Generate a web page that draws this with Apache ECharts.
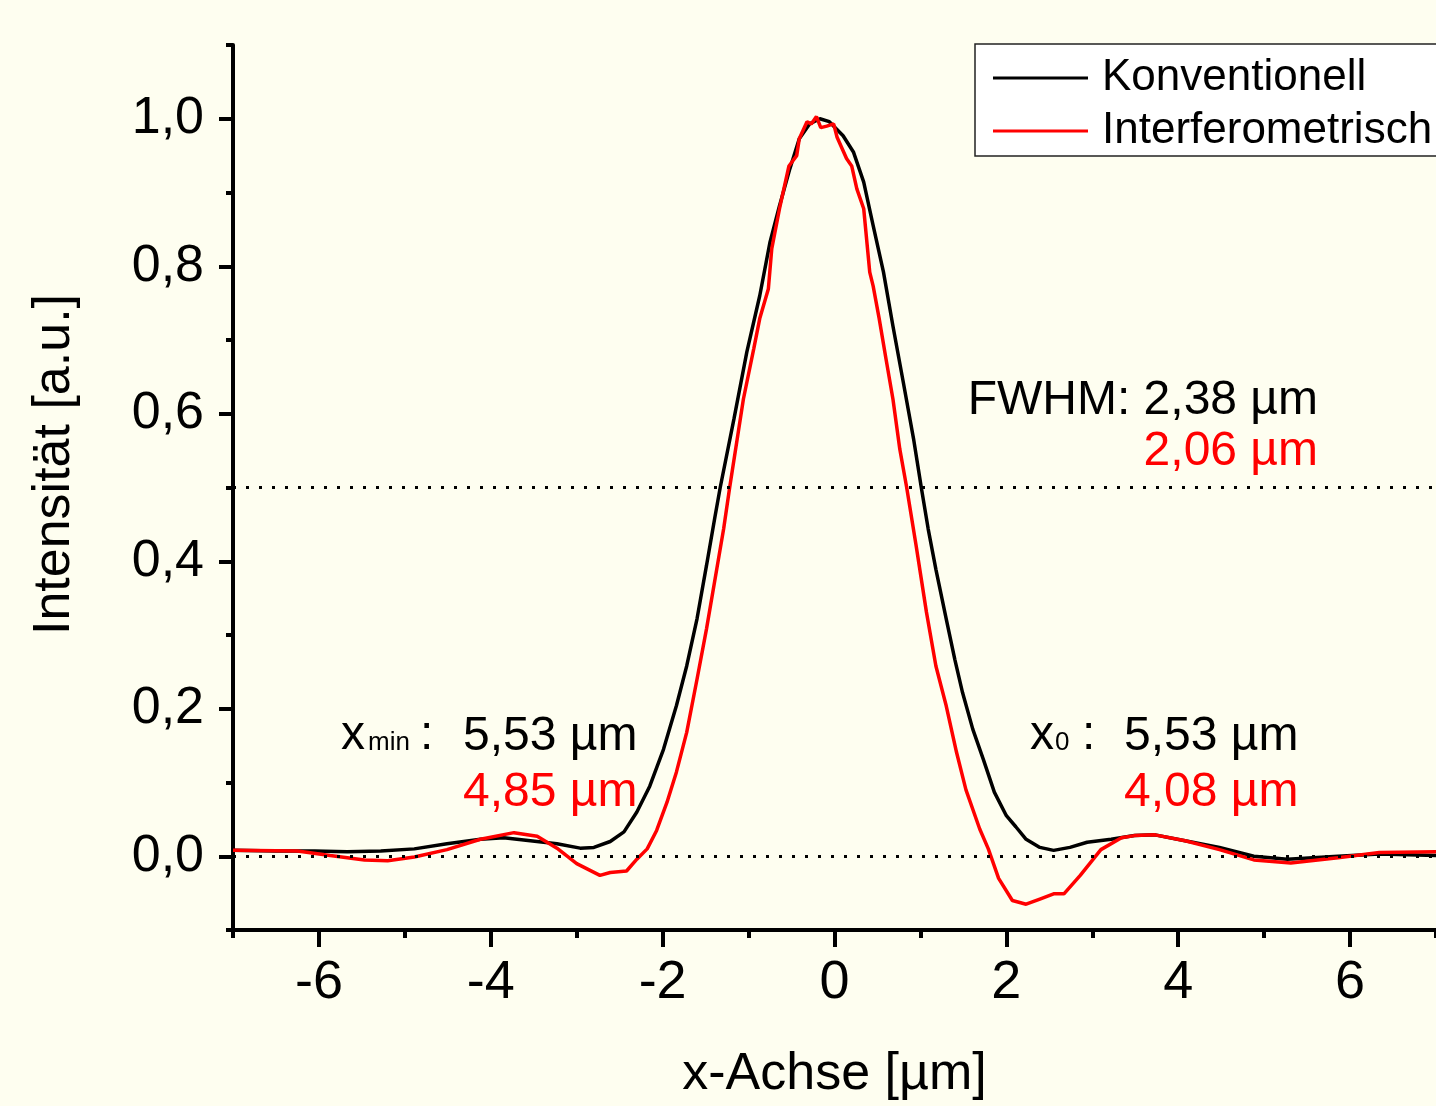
<!DOCTYPE html>
<html>
<head>
<meta charset="utf-8">
<script src="https://cdn.jsdelivr.net/npm/echarts@6/dist/echarts.min.js"></script>
<style>
html,body{margin:0;padding:0;background:#FEFEF0;}
#chart{width:1436px;height:1106px;}
</style>
</head>
<body>
<div id="chart"></div>
<script>
// ---- data ----
const seriesNames = ['Konventionell', 'Interferometrisch'];
const konvX = [-7.0,-6.5,-6.05,-5.67,-5.28,-4.89,-4.51,-4.12,-3.85,-3.54,-3.23,-2.96,-2.80,-2.61,-2.45,-2.30,-2.15,-1.99,-1.84,-1.72,-1.60,-1.49,-1.39,-1.33,-1.17,-1.02,-0.87,-0.75,-0.64,-0.52,-0.41,-0.29,-0.17,-0.06,0.10,0.22,0.34,0.45,0.57,0.68,0.80,0.92,1.01,1.09,1.18,1.30,1.40,1.49,1.61,1.73,1.86,2.00,2.11,2.23,2.39,2.55,2.74,2.94,3.22,3.49,3.73,4.08,4.48,4.88,5.27,5.86,6.34,7.0];
const konvY = [0.008,0.007,0.007,0.006,0.007,0.010,0.017,0.023,0.025,0.021,0.017,0.011,0.012,0.020,0.033,0.060,0.095,0.145,0.204,0.258,0.322,0.394,0.461,0.500,0.593,0.684,0.760,0.833,0.882,0.932,0.973,0.993,1.000,0.996,0.977,0.955,0.914,0.855,0.792,0.719,0.643,0.566,0.500,0.444,0.389,0.322,0.267,0.222,0.172,0.132,0.087,0.055,0.040,0.023,0.012,0.008,0.012,0.019,0.023,0.028,0.029,0.021,0.012,0.000,-0.004,0.000,0.003,0.001];
const interfX = [-7.0,-6.25,-5.87,-5.47,-5.20,-4.89,-4.51,-4.12,-3.73,-3.46,-3.23,-3.00,-2.73,-2.61,-2.42,-2.30,-2.18,-2.07,-1.95,-1.84,-1.72,-1.60,-1.49,-1.39,-1.29,-1.22,-1.06,-0.94,-0.87,-0.77,-0.73,-0.64,-0.53,-0.44,-0.41,-0.32,-0.27,-0.21,-0.16,-0.09,-0.01,0.03,0.14,0.20,0.26,0.34,0.41,0.45,0.52,0.60,0.68,0.76,0.84,0.95,1.07,1.18,1.30,1.42,1.53,1.69,1.79,1.91,2.07,2.23,2.39,2.55,2.67,2.86,3.10,3.34,3.49,3.73,4.08,4.48,4.88,5.31,5.86,6.34,7.0];
const interfY = [0.008,0.007,0.001,-0.005,-0.006,-0.001,0.009,0.023,0.032,0.027,0.011,-0.010,-0.026,-0.022,-0.020,-0.004,0.010,0.035,0.073,0.114,0.168,0.240,0.308,0.376,0.444,0.500,0.620,0.688,0.729,0.769,0.824,0.878,0.936,0.950,0.973,0.996,0.993,1.003,0.988,0.990,0.993,0.975,0.946,0.936,0.905,0.878,0.792,0.773,0.729,0.674,0.620,0.552,0.500,0.421,0.331,0.258,0.204,0.141,0.090,0.037,0.010,-0.030,-0.060,-0.065,-0.058,-0.051,-0.051,-0.026,0.009,0.025,0.028,0.029,0.021,0.009,-0.005,-0.009,-0.002,0.005,0.006];
const xMajorTicks = [-6,-4,-2,0,2,4,6];
const xMinorTicks = [-7,-5,-3,-1,1,3,5,7];
const yMajorTicks = [0,0.2,0.4,0.6,0.8,1.0];
const yMinorTicks = [-0.1,0.1,0.3,0.5,0.7,0.9,1.1];
const refLevels = [0, 0.5];
const fwhmTexts = ['FWHM: 2,38 µm', '2,06 µm'];
const xminTexts = ['5,53 µm', '4,85 µm'];
const x0Texts = ['5,53 µm', '4,08 µm'];

// ---- chart ----
const FONT = "'Liberation Sans', Arial, Helvetica, sans-serif";
const BLACK = '#000000', RED = '#FF0000';
const fmt = v => v.toFixed(1).replace('.', ',');
const pairs = (xs, ys) => xs.map((x, i) => [x, ys[i]]);
const txt = (text, x, y, size, color, align) => ({
  type: 'text', x: x, y: y, silent: true,
  style: { text: text, fill: color, font: size + 'px ' + FONT, align: align || 'left', verticalAlign: 'middle' }
});

const chart = echarts.init(document.getElementById('chart'), null, { renderer: 'canvas' });
chart.setOption({
  backgroundColor: '#FEFEF0',
  animation: false,
  grid: { left: 233, right: 0, top: 45, bottom: 174 },
  legend: {
    left: 975, top: 44, orient: 'vertical',
    data: seriesNames,
    icon: 'rect', itemWidth: 95, itemHeight: 3, itemGap: 3,
    padding: [9, 30, 0, 18],
    backgroundColor: '#FFFFFF', borderColor: '#222', borderWidth: 1.5, borderRadius: 0,
    textStyle: { fontSize: 44, fontFamily: FONT, color: BLACK, lineHeight: 50, padding: [0, 0, 0, 9] }
  },
  xAxis: [
    {
      type: 'value', min: -7, max: 7, position: 'bottom',
      axisLine: { show: true, onZero: false, lineStyle: { color: BLACK, width: 4 } },
      axisTick: { show: true, customValues: xMajorTicks, length: 17, lineStyle: { color: BLACK, width: 4 } },
      axisLabel: { customValues: xMajorTicks, formatter: v => String(v), fontSize: 54, fontFamily: FONT, color: BLACK, margin: 26 },
      splitLine: { show: false },
      name: 'x-Achse [µm]', nameLocation: 'middle', nameGap: 119,
      nameTextStyle: { fontSize: 52, fontFamily: FONT, color: BLACK }
    },
    {
      type: 'value', min: -7, max: 7, position: 'bottom',
      axisLine: { show: false, onZero: false },
      axisTick: { show: true, customValues: xMinorTicks, length: 8, lineStyle: { color: BLACK, width: 4 } },
      axisLabel: { show: false }, splitLine: { show: false }
    }
  ],
  yAxis: [
    {
      type: 'value', min: -0.1, max: 1.1, position: 'left',
      axisLine: { show: true, onZero: false, lineStyle: { color: BLACK, width: 4 } },
      axisTick: { show: true, customValues: yMajorTicks, length: 14, lineStyle: { color: BLACK, width: 4 } },
      axisLabel: { customValues: yMajorTicks, formatter: fmt, fontSize: 52, fontFamily: FONT, color: BLACK, margin: 29 },
      splitLine: { show: false },
      name: 'Intensität [a.u.]', nameLocation: 'middle', nameGap: 152,
      nameTextStyle: { fontSize: 52, fontFamily: FONT, color: BLACK, padding: [0, 0, 0, 46] }
    },
    {
      type: 'value', min: -0.1, max: 1.1, position: 'left',
      axisLine: { show: false, onZero: false },
      axisTick: { show: true, customValues: yMinorTicks, length: 7, lineStyle: { color: BLACK, width: 4 } },
      axisLabel: { show: false }, splitLine: { show: false }
    }
  ],
  series: [
    {
      name: seriesNames[0], type: 'line', xAxisIndex: 0, yAxisIndex: 0,
      data: pairs(konvX, konvY), showSymbol: false, symbol: 'none',
      lineStyle: { color: BLACK, width: 3.5 }, itemStyle: { color: BLACK },
      markLine: {
        silent: true, symbol: 'none', label: { show: false },
        lineStyle: { color: BLACK, width: 3, type: [3, 10] },
        data: refLevels.map(v => ({ yAxis: v }))
      },
      z: 3
    },
    {
      name: seriesNames[1], type: 'line', xAxisIndex: 0, yAxisIndex: 0,
      data: pairs(interfX, interfY), showSymbol: false, symbol: 'none',
      lineStyle: { color: RED, width: 3.5 }, itemStyle: { color: RED },
      z: 4
    }
  ],
  graphic: [
    txt(fwhmTexts[0], 1318, 401, 48, BLACK, 'right'),
    txt(fwhmTexts[1], 1318, 452, 48, RED, 'right'),
    txt('x', 341, 736, 48, BLACK),
    txt('min', 368, 743, 26, BLACK),
    txt(':', 420, 736, 48, BLACK),
    txt(xminTexts[0], 463, 737, 48, BLACK),
    txt(xminTexts[1], 463, 793, 48, RED),
    txt('x', 1030, 736, 48, BLACK),
    txt('0', 1055, 743, 26, BLACK),
    txt(':', 1082, 736, 48, BLACK),
    txt(x0Texts[0], 1124, 737, 48, BLACK),
    txt(x0Texts[1], 1124, 793, 48, RED)
  ]
});
</script>
</body>
</html>
